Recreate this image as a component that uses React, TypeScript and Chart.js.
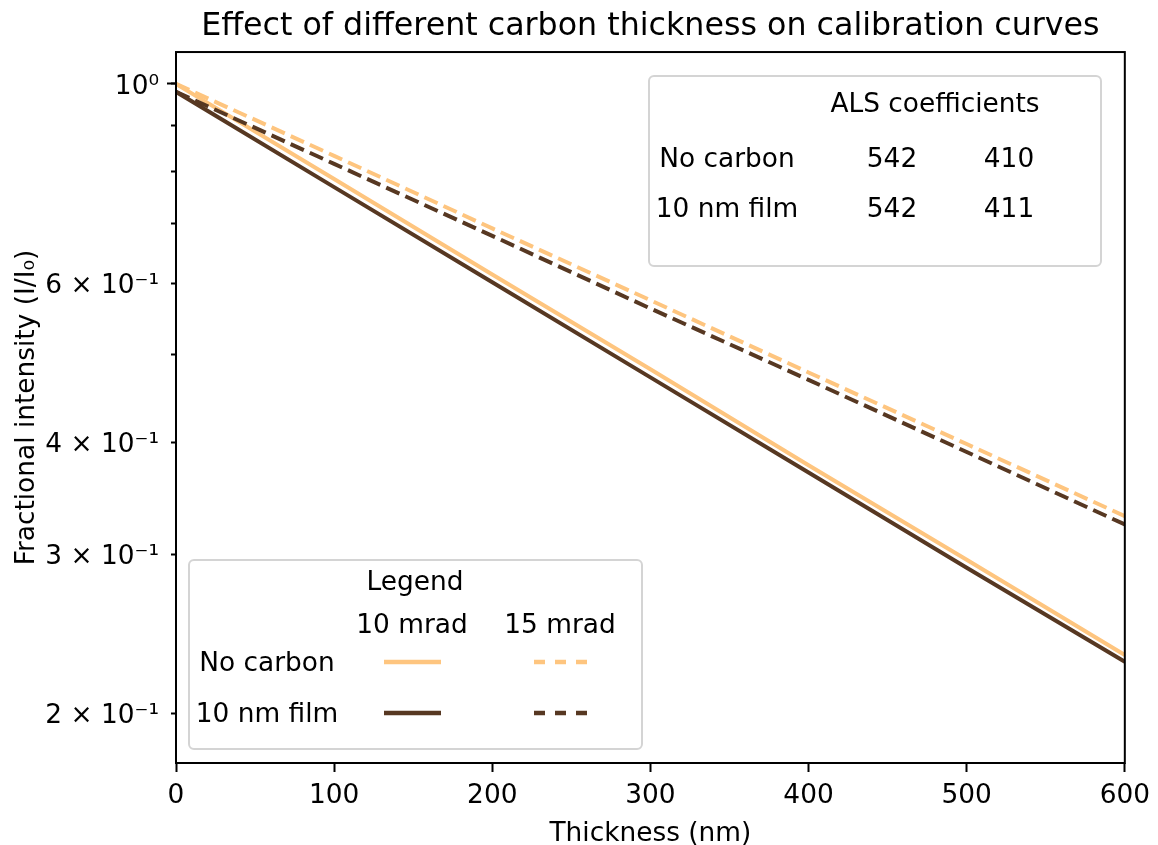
import React, { useEffect, useRef } from "react";
import { Chart, registerables } from "chart.js";

Chart.register(...registerables);

// ---------- data ----------
const thickness = [0, 100, 200, 300, 400, 500, 600];
const noCarbon10 = [1.0, 0.784, 0.614, 0.482, 0.377, 0.296, 0.232];
const film10 = [0.98, 0.768, 0.602, 0.472, 0.37, 0.29, 0.228];
const noCarbon15 = [1.0, 0.832, 0.691, 0.575, 0.478, 0.398, 0.331];
const film15 = [0.98, 0.815, 0.678, 0.563, 0.469, 0.39, 0.324];

const xTickStep = 100;
const yTickValues = [0.2, 0.3, 0.4, 0.5, 0.6, 0.7, 0.8, 0.9, 1.0];
const yMajorTickValues = [1.0];
const yTickLabels: Record<string, string> = {
  "1": "10\u2070",
  "0.6": "6 \u00d7 10\u207b\u00b9",
  "0.4": "4 \u00d7 10\u207b\u00b9",
  "0.3": "3 \u00d7 10\u207b\u00b9",
  "0.2": "2 \u00d7 10\u207b\u00b9",
};

const tableRows = ["No carbon", "10 nm film"];
const alsCol1 = [542, 542];
const alsCol2 = [410, 411];
const legendCols = ["10 mrad", "15 mrad"];

const TITLE = "Effect of different carbon thickness on calibration curves";
const X_TITLE = "Thickness (nm)";
const Y_TITLE = "Fractional intensity (I/I\u2080)";
const ALS_TITLE = "ALS coefficients";
const LEGEND_TITLE = "Legend";

// ---------- styles ----------
const ORANGE = "#FEC57F";
const BROWN = "#573822";
const FONT = '"DejaVu Sans"';
const FS = 26.4;
const TITLE_FS = 31.7;
const LINE_W = 4;
const DASH = [14.5, 6.5];

const overlayPlugin = {
  id: "overlay",
  afterDraw(chart: any) {
    const { ctx, chartArea: a } = chart;
    ctx.save();
    // frame
    ctx.strokeStyle = "#000";
    ctx.lineWidth = 2;
    ctx.strokeRect(a.left, a.top, a.right - a.left, a.bottom - a.top);

    const box = (l: number, t: number, r: number, b: number) => {
      ctx.beginPath();
      ctx.roundRect(l, t, r - l, b - t, 5);
      ctx.fillStyle = "rgba(255,255,255,0.8)";
      ctx.fill();
      ctx.strokeStyle = "#d4d4d4";
      ctx.lineWidth = 2;
      ctx.stroke();
    };
    const text = (s: string, x: number, y: number) => {
      ctx.fillStyle = "#000";
      ctx.font = `${FS}px ${FONT}`;
      ctx.textAlign = "center";
      ctx.textBaseline = "middle";
      ctx.fillText(s, x, y);
    };
    const seg = (x1: number, x2: number, y: number, color: string, dash: number[]) => {
      ctx.beginPath();
      ctx.setLineDash(dash);
      ctx.lineCap = "butt";
      ctx.strokeStyle = color;
      ctx.lineWidth = 4.5;
      ctx.moveTo(x1, y);
      ctx.lineTo(x2, y);
      ctx.stroke();
      ctx.setLineDash([]);
    };

    // ALS coefficients box
    box(a.left + 473, a.top + 24, a.left + 925, a.top + 214);
    text(ALS_TITLE, a.left + 759, a.top + 53);
    tableRows.forEach((row, i) => {
      const y = a.top + 108 + i * 50;
      text(row, a.left + 551, y);
      text(String(alsCol1[i]), a.left + 716, y);
      text(String(alsCol2[i]), a.left + 833, y);
    });

    // Legend box
    box(a.left + 13, a.top + 508, a.left + 466, a.top + 697);
    text(LEGEND_TITLE, a.left + 239, a.top + 531);
    text(legendCols[0], a.left + 236, a.top + 574);
    text(legendCols[1], a.left + 384, a.top + 574);
    const colors = [ORANGE, BROWN];
    tableRows.forEach((row, i) => {
      const y = a.top + 612 + i * 51;
      text(row, a.left + 91, y);
      seg(a.left + 208, a.left + 265, y - 2, colors[i], []);
      seg(a.left + 358, a.left + 412, y - 2, colors[i], [11, 10]);
    });
    ctx.restore();
  },
};

const pts = (ys: number[]) => thickness.map((x, i) => ({ x, y: ys[i] }));

export default function App() {
  const ref = useRef<HTMLCanvasElement | null>(null);

  useEffect(() => {
    document.body.style.margin = "0";
    const canvas = ref.current;
    if (!canvas) return;
    const tickFont = { family: FONT, size: FS };
    const chart = new Chart(canvas, {
      type: "line",
      data: {
        datasets: [
          { label: "10 nm film 15 mrad", data: pts(film15), borderColor: BROWN, borderDash: DASH },
          { label: "No carbon 15 mrad", data: pts(noCarbon15), borderColor: ORANGE, borderDash: DASH },
          { label: "10 nm film 10 mrad", data: pts(film10), borderColor: BROWN },
          { label: "No carbon 10 mrad", data: pts(noCarbon10), borderColor: ORANGE },
        ].map((d) => ({
          ...d,
          borderWidth: LINE_W,
          pointRadius: 0,
          tension: 0,
          fill: false,
          borderCapStyle: "butt" as const,
          yAxisID: "y",
        })),
      },
      options: {
        responsive: false,
        animation: false,
        devicePixelRatio: 1,
        layout: { padding: { left: 0, right: 29, top: 0, bottom: 0 } },
        plugins: {
          legend: { display: false },
          tooltip: { enabled: false },
          title: {
            display: true,
            fullSize: false,
            text: TITLE,
            color: "#000",
            font: { family: FONT, size: TITLE_FS, weight: "normal" as any, lineHeight: 1.2 },
            padding: { top: 7.5, bottom: 6.5 },
          },
        },
        scales: {
          x: {
            type: "linear",
            min: 0,
            max: 600,
            ticks: {
              stepSize: xTickStep,
              color: "#000",
              font: tickFont,
              padding: 8,
              maxRotation: 0,
              autoSkip: false,
            },
            grid: { drawOnChartArea: false, tickLength: 9, tickColor: "#000", tickWidth: 2 },
            border: { display: false },
            title: {
              display: true,
              text: X_TITLE,
              color: "#000",
              font: { family: FONT, size: FS, lineHeight: 1 },
              padding: { top: 0, bottom: -2.4 },
            },
            afterFit: (s: any) => {
              s.height = 82;
            },
          },
          y: {
            type: "logarithmic",
            position: "left",
            weight: 1,
            min: 0.176,
            max: 1.085,
            bounds: "data",
            afterBuildTicks: (s: any) => {
              s.ticks = yTickValues.map((v) => ({ value: v }));
            },
            ticks: {
              autoSkip: false,
              color: "#000",
              font: tickFont,
              padding: 12,
              labelOffset: 3,
              callback: (v: any) => yTickLabels[String(v)] ?? "",
            },
            grid: { drawOnChartArea: false, tickLength: 5, tickColor: "#000", tickWidth: 2 },
            border: { display: false },
            title: {
              display: true,
              text: Y_TITLE,
              color: "#000",
              font: { family: FONT, size: FS, lineHeight: 1 },
              padding: { top: 14, bottom: 0 },
            },
            afterFit: (s: any) => {
              s.width = 176;
            },
          },
          yMajor: {
            type: "logarithmic",
            position: "left",
            weight: 0,
            min: 0.176,
            max: 1.085,
            bounds: "data",
            afterBuildTicks: (s: any) => {
              s.ticks = yMajorTickValues.map((v) => ({ value: v }));
            },
            ticks: { display: false },
            grid: { drawOnChartArea: false, tickLength: 9, tickColor: "#000", tickWidth: 2 },
            border: { display: false },
            afterFit: (s: any) => {
              s.width = 0;
            },
          },
        },
      } as any,
      plugins: [overlayPlugin],
    });
    return () => chart.destroy();
  }, []);

  return (
    <div style={{ position: "fixed", left: 0, top: 0, width: 1158, height: 845, background: "#fff" }}>
      <canvas ref={ref} width={1158} height={845} />
    </div>
  );
}
